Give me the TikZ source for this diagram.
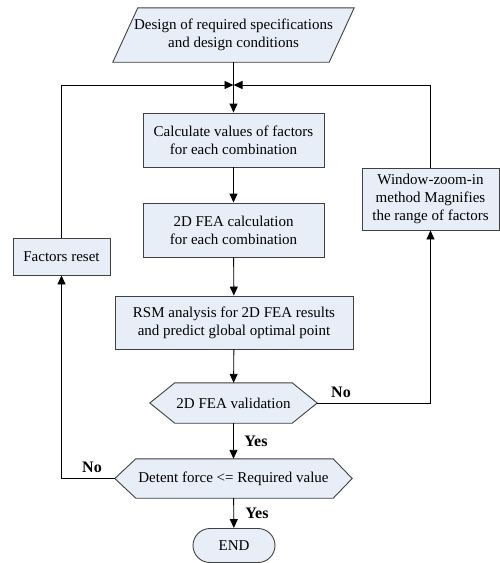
\documentclass[tikz,border=0pt]{standalone}
\usepackage{fontspec}
\setmainfont{Liberation Serif}
\usetikzlibrary{arrows.meta,calc,shapes.misc}
\definecolor{boxfill}{HTML}{E8EEF7}
\definecolor{edgec}{HTML}{404040}
\begin{document}
\begin{tikzpicture}[x=1pt,y=-1pt,
 base/.style={align=center,inner sep=0pt,font=\fontsize{15}{18}\selectfont},
 proc/.style={base,draw=edgec,fill=boxfill,line width=0.9pt},
 shapebox/.style={base,draw=none},
 outline/.style={draw=edgec,fill=boxfill,line width=0.9pt},
 lbl/.style={font=\fontsize{16}{18}\selectfont\bfseries},
 conn/.style={line width=0.9pt,draw=black},
 arr/.style={conn,-{Triangle[length=9pt,width=8pt]}}]
\useasboundingbox (0,0) rectangle (500,563);

% parallelogram
\node[shapebox,minimum width=241pt,minimum height=54pt] (para) at (233.5,35) {};
\draw[outline] ($(para.north west)+(25,0)$) -- (para.north east) -- ($(para.south east)+(-25,0)$) -- (para.south west) -- cycle;
\node[base] at (para) {Design of required specifications\\and design conditions};

\node[proc,minimum width=181pt,minimum height=54pt] (box1) at (233.5,140) {Calculate values of factors\\for each combination};
\node[proc,minimum width=181pt,minimum height=54pt] (box2) at (233.5,230) {2D FEA calculation\\for each combination};
\node[proc,minimum width=238pt,minimum height=53pt] (box3) at (234,322.5) {RSM analysis for 2D FEA results\\and predict global optimal point};
\node[proc,minimum width=97pt,minimum height=37pt] (fr) at (61.5,256.5) {Factors reset};
\node[proc,minimum width=137pt,minimum height=62pt] (win) at (430.5,199) {Window-zoom-in\\method Magnifies\\the range of factors};

% hexagon 1
\node[shapebox,minimum width=167pt,minimum height=40pt] (hex1) at (233.5,403) {};
\draw[outline] (hex1.west) -- ($(hex1.north west)+(25,0)$) -- ($(hex1.north east)+(-25,0)$) -- (hex1.east) -- ($(hex1.south east)+(-25,0)$) -- ($(hex1.south west)+(25,0)$) -- cycle;
\node[base] at (hex1) {2D FEA validation};

% hexagon 2
\node[shapebox,minimum width=237pt,minimum height=39pt] (hex2) at (233.5,478.5) {};
\draw[outline] (hex2.west) -- ($(hex2.north west)+(21,0)$) -- ($(hex2.north east)+(-19,0)$) -- (hex2.east) -- ($(hex2.south east)+(-19,0)$) -- ($(hex2.south west)+(21,0)$) -- cycle;
\node[base] at (hex2) {Detent force <= Required value};

\node[proc,rounded rectangle,minimum width=82pt,minimum height=34pt] (endn) at (234,545.5) {END};

\coordinate (j) at (233.5,85);

\draw[conn] (para.south) -- (j);
\draw[arr] (j) -- (box1);
\draw[arr] (fr.north) |- (j);
\draw[arr] (win.north) |- (j);
\draw[arr] (box1) -- (box2);
\draw[arr] (box2) -- (box3);
\draw[arr] (box3) -- (hex1);
\draw[arr] (hex1) -- (hex2);
\draw[arr] (hex2) -- (endn);
\draw[arr] (hex1.east) -| (win.south);
\draw[arr] (hex2.west) -| (fr.south);

\node[lbl] at (341,392) {No};
\node[lbl] at (256,441) {Yes};
\node[lbl] at (92,467) {No};
\node[lbl] at (257,513) {Yes};
\end{tikzpicture}
\end{document}
